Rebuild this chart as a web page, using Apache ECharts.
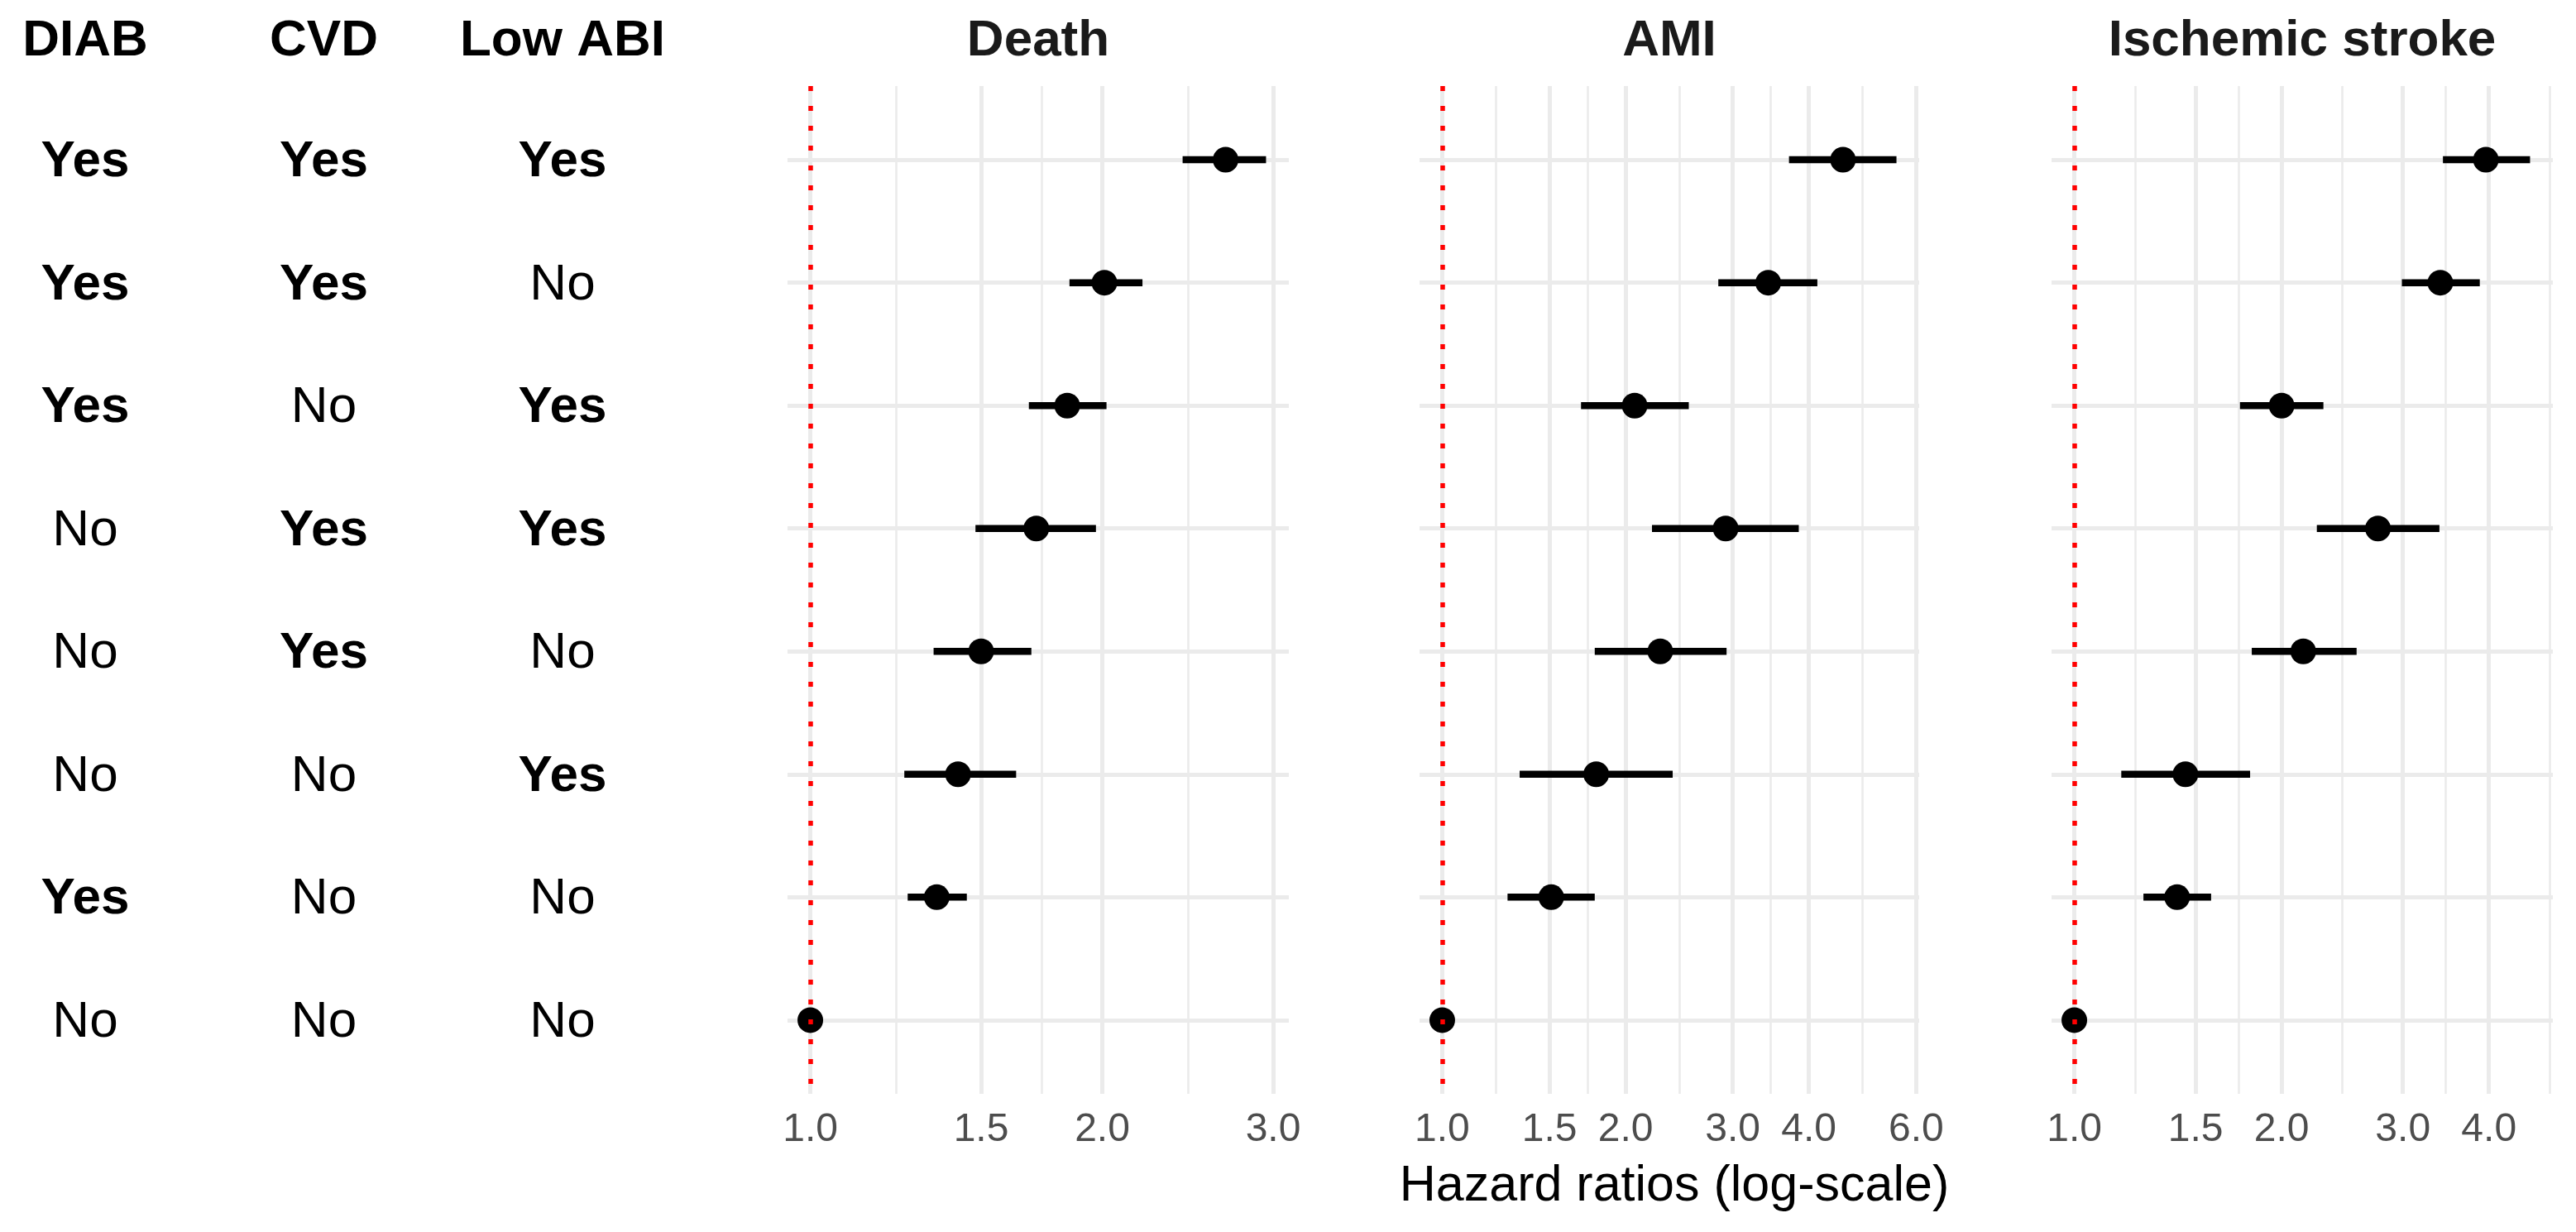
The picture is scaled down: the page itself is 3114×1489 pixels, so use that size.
<!DOCTYPE html>
<html><head><meta charset="utf-8">
<script src="https://cdn.jsdelivr.net/npm/echarts@6/dist/echarts.min.js"></script>
<style>html,body{margin:0;padding:0;background:#fff}#c{width:3114px;height:1489px}</style>
</head><body><div id="c"></div>
<script>
// ---- table columns ----
const columnHeaders = ['DIAB', 'CVD', 'Low ABI'];
const diab   = ['Yes', 'Yes', 'Yes', 'No', 'No', 'No', 'Yes', 'No'];
const cvd    = ['Yes', 'Yes', 'No', 'Yes', 'Yes', 'No', 'No', 'No'];
const lowAbi = ['Yes', 'No', 'Yes', 'Yes', 'No', 'Yes', 'No', 'No'];

// ---- hazard ratios (point, lower CI, upper CI) ----
const panelTitles = ['Death', 'AMI', 'Ischemic stroke'];
const deathHR  = [2.68, 2.01, 1.84, 1.71, 1.50, 1.42, 1.35, 1.00];
const deathLo  = [2.42, 1.85, 1.68, 1.48, 1.34, 1.25, 1.26, 1.00];
const deathHi  = [2.95, 2.20, 2.02, 1.97, 1.69, 1.63, 1.45, 1.00];
const amiHR    = [4.55, 3.43, 2.07, 2.92, 2.28, 1.79, 1.51, 1.00];
const amiLo    = [3.71, 2.84, 1.69, 2.21, 1.78, 1.34, 1.28, 1.00];
const amiHi    = [5.57, 4.13, 2.54, 3.85, 2.93, 2.39, 1.78, 1.00];
const strokeHR = [3.96, 3.40, 2.00, 2.76, 2.15, 1.45, 1.41, 1.00];
const strokeLo = [3.43, 2.99, 1.74, 2.25, 1.81, 1.17, 1.26, 1.00];
const strokeHi = [4.59, 3.88, 2.30, 3.39, 2.57, 1.80, 1.58, 1.00];

// ---- tick labels ----
const deathTicks  = [1.0, 1.5, 2.0, 3.0];
const amiTicks    = [1.0, 1.5, 2.0, 3.0, 4.0, 6.0];
const strokeTicks = [1.0, 1.5, 2.0, 3.0, 4.0];
const deathMinor  = [1.2247, 1.7321, 2.4495];
const amiMinor    = [1.2247, 1.7321, 2.4495, 3.4641, 4.8990];
const strokeMinor = [1.2247, 1.7321, 2.4495, 3.4641, 4.8990];
const xTitle = 'Hazard ratios (log-scale)';
const refValue = 1.0;

// ---- layout ----
const FONT = '"Liberation Sans", Arial, Helvetica, sans-serif';
const TOP = 104, BOTTOM = 167;
const rowIdx = [0, 1, 2, 3, 4, 5, 6, 7];
const panels = [
  { hr: deathHR,  lo: deathLo,  hi: deathHi,  ticks: deathTicks,  minor: deathMinor,  left: 952,  width: 606 },
  { hr: amiHR,    lo: amiLo,    hi: amiHi,    ticks: amiTicks,    minor: amiMinor,    left: 1716, width: 604 },
  { hr: strokeHR, lo: strokeLo, hi: strokeHi, ticks: strokeTicks, minor: strokeMinor, left: 2480, width: 606 }
];

const grid = [{ left: 0, width: 800, top: TOP, bottom: BOTTOM, containLabel: false, outerBoundsMode: 'none' }];
const xAxis = [{
  type: 'value', gridIndex: 0, min: -0.357, max: 2.416, position: 'top',
  axisLine: { show: false }, splitLine: { show: false },
  axisTick: { show: false, customValues: [0, 1, 2] },
  axisLabel: { customValues: [0, 1, 2], formatter: v => columnHeaders[Math.round(v)],
    fontSize: 62, fontWeight: 'bold', color: '#000', fontFamily: FONT, margin: 23 }
}];
const yAxis = [{ type: 'value', gridIndex: 0, min: -0.6, max: 7.6, inverse: true, show: false }];
const series = [];

// table text
const cols = [diab, cvd, lowAbi];
const tableData = [];
cols.forEach((col, c) => col.forEach((txt, r) => {
  tableData.push({ value: [c, r], label: { formatter: txt, fontWeight: txt === 'Yes' ? 'bold' : 'normal' } });
}));
series.push({
  type: 'scatter', xAxisIndex: 0, yAxisIndex: 0, symbolSize: 0,
  itemStyle: { color: 'rgba(0,0,0,0)', opacity: 1 }, silent: true,
  label: { show: true, position: 'inside', fontSize: 62, color: '#000', opacity: 1, fontFamily: FONT, offset: [0, 3] },
  data: tableData
});

panels.forEach((p, i) => {
  const gi = i + 1;
  let hiMax = -Infinity, loMin = Infinity;
  p.hi.forEach(v => { hiMax = Math.max(hiMax, Math.log(v)); });
  p.lo.forEach(v => { loMin = Math.min(loMin, Math.log(v)); });
  const span = hiMax - loMin;
  const xmin = loMin - 0.05 * span, xmax = hiMax + 0.05 * span;
  grid.push({ left: p.left, width: p.width, top: TOP, bottom: BOTTOM, containLabel: false, outerBoundsMode: 'none' });
  const major = p.ticks.map(v => Math.log(v));
  const minor = p.minor.map(v => Math.log(v));
  xAxis.push({
    type: 'value', gridIndex: gi, min: xmin, max: xmax, position: 'bottom',
    axisLine: { show: false },
    axisTick: { show: false, customValues: major },
    axisLabel: { customValues: major, formatter: v => Math.exp(v).toFixed(1),
      fontSize: 48, color: '#4D4D4D', fontFamily: FONT, margin: 20 },
    splitLine: { show: true, lineStyle: { color: '#EBEBEB', width: 5 } },
    name: i === 1 ? xTitle : '', nameLocation: 'middle', nameGap: 82,
    nameTextStyle: { fontSize: 61, color: '#000', fontFamily: FONT, padding: [0, 0, 0, 12] }
  });
  xAxis.push({
    type: 'value', gridIndex: gi, min: xmin, max: xmax, position: 'top',
    axisLine: { show: false },
    axisTick: { show: false, customValues: minor },
    axisLabel: { show: false },
    splitLine: { show: true, lineStyle: { color: '#EBEBEB', width: 2.6 } },
    name: panelTitles[i], nameLocation: 'middle', nameGap: 23,
    nameTextStyle: { fontSize: 62, fontWeight: 'bold', color: '#1A1A1A', fontFamily: FONT }
  });
  yAxis.push({
    type: 'value', gridIndex: gi, min: -0.6, max: 7.6, inverse: true,
    axisLine: { show: false },
    axisTick: { show: false, customValues: rowIdx },
    axisLabel: { show: false },
    splitLine: { show: true, lineStyle: { color: '#EBEBEB', width: 5 } }
  });
  const xi = 1 + i * 2;
  series.push({
    type: 'custom', xAxisIndex: xi, yAxisIndex: gi, silent: true,
    encode: { x: [0, 1], y: 2 },
    data: rowIdx.map(r => [Math.log(p.lo[r]), Math.log(p.hi[r]), r]),
    renderItem: (params, api) => {
      const a = api.coord([api.value(0), api.value(2)]);
      const b = api.coord([api.value(1), api.value(2)]);
      return { type: 'line', shape: { x1: a[0], y1: a[1], x2: b[0], y2: b[1] },
        style: { stroke: '#000', lineWidth: 8.5, lineCap: 'butt' } };
    }
  });
  series.push({
    type: 'scatter', xAxisIndex: xi, yAxisIndex: gi, silent: true,
    symbol: 'circle', symbolSize: 31, itemStyle: { color: '#000', opacity: 1 },
    data: rowIdx.map(r => [Math.log(p.hr[r]), r]),
    markLine: {
      silent: true, symbol: ['none', 'none'], label: { show: false },
      lineStyle: { color: '#FF0000', width: 5.5, type: [6, 18], cap: 'butt', opacity: 1 },
      data: [{ xAxis: Math.log(refValue) }]
    }
  });
});

const chart = echarts.init(document.getElementById('c'), null, { renderer: 'canvas' });
chart.setOption({ animation: false, backgroundColor: '#fff', textStyle: { fontFamily: FONT },
  grid, xAxis, yAxis, series });
</script></body></html>
